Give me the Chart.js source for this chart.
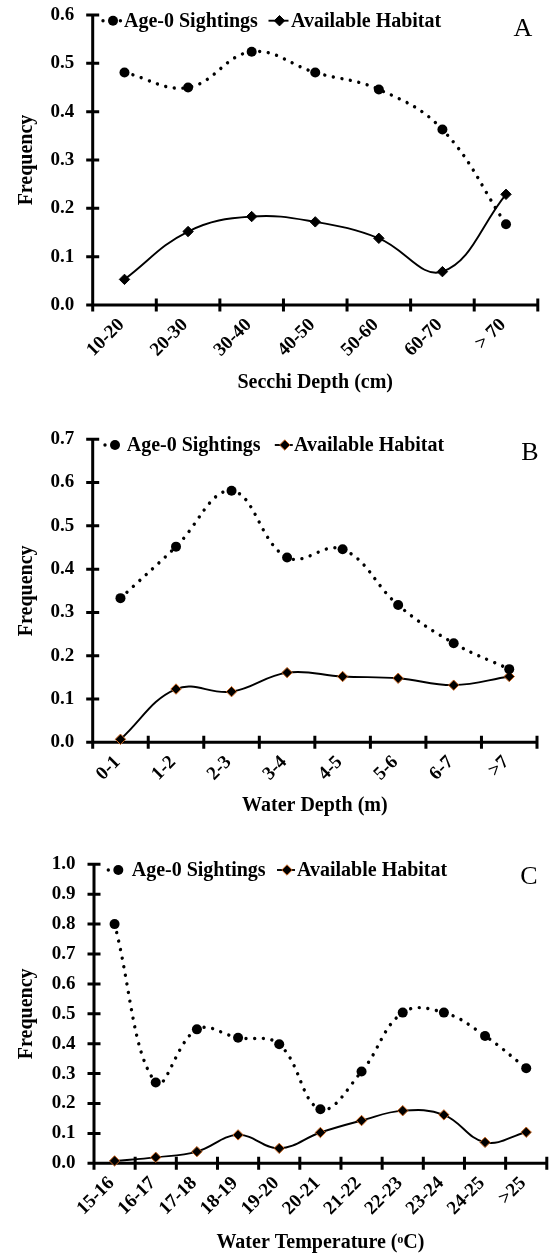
<!DOCTYPE html>
<html>
<head>
<meta charset="utf-8">
<script src="https://cdn.jsdelivr.net/npm/chart.js@4/dist/chart.umd.min.js"></script>
<style>
html,body{margin:0;padding:0;background:#fff;}
body{width:553px;height:1258px;position:relative;overflow:hidden;}
.panel{position:absolute;left:0;width:553px;}
canvas{display:block;}
</style>
</head>
<body>
<div class="panel" style="top:0;height:410px"><canvas id="chartA" width="553" height="410"></canvas></div>
<div class="panel" style="top:410px;height:420px"><canvas id="chartB" width="553" height="420"></canvas></div>
<div class="panel" style="top:830px;height:428px"><canvas id="chartC" width="553" height="428"></canvas></div>
<script>
// ---------- DATA ----------
const seriesNames = ['Age-0 Sightings', 'Available Habitat'];

const secchiLabels = ['10-20', '20-30', '30-40', '40-50', '50-60', '60-70', '> 70'];
const secchiAge0 = [0.481, 0.450, 0.524, 0.481, 0.446, 0.363, 0.167];
const secchiHabitat = [0.053, 0.152, 0.183, 0.172, 0.138, 0.069, 0.229];

const depthLabels = ['0-1', '1-2', '2-3', '3-4', '4-5', '5-6', '6-7', '>7'];
const depthAge0 = [0.333, 0.452, 0.581, 0.427, 0.446, 0.317, 0.229, 0.169];
const depthHabitat = [0.007, 0.123, 0.117, 0.161, 0.152, 0.148, 0.132, 0.152];

const tempLabels = ['15-16', '16-17', '17-18', '18-19', '19-20', '20-21', '21-22', '22-23', '23-24', '24-25', '>25'];
const tempAge0 = [0.800, 0.270, 0.448, 0.420, 0.398, 0.181, 0.307, 0.504, 0.504, 0.426, 0.318];
const tempHabitat = [0.008, 0.020, 0.039, 0.095, 0.050, 0.103, 0.143, 0.176, 0.162, 0.070, 0.104];

const yMaxA = 0.6, yMaxB = 0.7, yMaxC = 1.0;
const yStep = 0.1;

// ---------- STYLE ----------
const SERIF = "'Liberation Serif', 'Times New Roman', 'DejaVu Serif', serif";

function drawMarker(ctx, d, x, y) {
  ctx.save();
  ctx.setLineDash([]);
  ctx.fillStyle = d.pointBackgroundColor;
  ctx.strokeStyle = d.pointBorderColor;
  ctx.lineWidth = d.pointBorderWidth;
  const r = d.pointRadius;
  ctx.beginPath();
  if (d.pointStyle === 'rectRot') {
    ctx.moveTo(x - r, y); ctx.lineTo(x, y - r); ctx.lineTo(x + r, y); ctx.lineTo(x, y + r); ctx.closePath();
  } else {
    ctx.arc(x, y, r, 0, Math.PI * 2);
  }
  ctx.fill();
  if (d.pointBorderWidth > 0) ctx.stroke();
  ctx.restore();
}

const axesPlugin = {
  id: 'excelAxes',
  beforeDatasetsDraw(chart, args, opts) {
    const { ctx, chartArea: a, scales } = chart;
    const x = scales.x, y = scales.y;
    const lw = opts.lineWidth, tk = opts.tick;
    ctx.save();
    ctx.strokeStyle = '#000';
    ctx.lineWidth = lw;
    ctx.lineCap = 'butt';
    ctx.beginPath();
    ctx.moveTo(a.left, a.top - lw / 2);
    ctx.lineTo(a.left, a.bottom + lw / 2);
    ctx.moveTo(a.left - lw / 2, a.bottom);
    ctx.lineTo(a.right, a.bottom);
    y.ticks.forEach((t, i) => {
      const py = y.getPixelForTick(i);
      ctx.moveTo(a.left - tk, py);
      ctx.lineTo(a.left + tk, py);
    });
    const n = x.ticks.length;
    for (let i = 0; i <= n; i++) {
      const px = a.left + (a.right - a.left) * i / n;
      ctx.moveTo(px, a.bottom - tk);
      ctx.lineTo(px, a.bottom + tk);
    }
    ctx.stroke();
    ctx.restore();
  }
};

const legendPlugin = {
  id: 'excelLegend',
  afterDraw(chart, args, opts) {
    const { ctx, chartArea: a } = chart;
    const ds = chart.data.datasets;
    ctx.save();
    ctx.fillStyle = '#000';
    ctx.textAlign = 'left';
    ctx.textBaseline = 'alphabetic';
    ctx.font = 'bold ' + opts.fontSize + 'px ' + SERIF;
    const my = a.top + opts.markerDy;
    opts.items.forEach((it, i) => {
      const d = ds[i];
      ctx.save();
      ctx.strokeStyle = d.borderColor;
      ctx.lineWidth = d.borderWidth;
      ctx.setLineDash(d.borderDash || []);
      ctx.lineCap = d.borderCapStyle || 'butt';
      ctx.beginPath();
      ctx.moveTo(it.marker - it.before, my);
      ctx.lineTo(it.marker + it.after, my);
      ctx.stroke();
      ctx.restore();
      drawMarker(ctx, d, it.marker, my);
      ctx.fillText(d.label, it.text, a.top + opts.baselineDy);
    });
    ctx.font = opts.letterSize + 'px ' + SERIF;
    ctx.textAlign = 'center';
    ctx.fillText(opts.letter, opts.letterX, a.top + opts.letterDy);
    ctx.restore();
  }
};

function makeChart(id, labels, age0, habitat, yMax, xTitle, lay) {
  return new Chart(document.getElementById(id), {
    type: 'line',
    data: {
      labels: labels,
      datasets: [
        {
          label: seriesNames[0], data: age0,
          borderColor: '#000', borderWidth: 3.4, borderDash: [0.01, 8.7], borderCapStyle: 'round',
          tension: 0.4, fill: false, clip: false,
          pointStyle: 'circle', pointRadius: 5, pointBackgroundColor: '#000',
          pointBorderColor: '#000', pointBorderWidth: 0
        },
        {
          label: seriesNames[1], data: habitat,
          borderColor: '#000', borderWidth: 1.9,
          tension: 0.4, fill: false, clip: false,
          pointStyle: 'rectRot', pointRadius: 5.2, pointBackgroundColor: '#000',
          pointBorderColor: lay.diamondBorder, pointBorderWidth: 1
        }
      ]
    },
    options: {
      responsive: false,
      animation: false,
      events: [],
      layout: { padding: { top: lay.top, right: 553 - lay.right, left: 0, bottom: 0 } },
      plugins: {
        legend: { display: false },
        tooltip: { enabled: false },
        excelAxes: { lineWidth: 3, tick: 6.5 },
        excelLegend: {
          fontSize: 20, markerDy: 5.7, baselineDy: 11.7,
          items: lay.legendItems,
          letter: lay.letter, letterX: lay.letterX, letterDy: lay.letterDy, letterSize: 26
        }
      },
      scales: {
        x: {
          type: 'category', offset: true,
          grid: { display: false, drawTicks: false },
          border: { display: false },
          ticks: {
            autoSkip: false, maxRotation: 45, minRotation: 45,
            padding: 9, labelOffset: -3, color: '#000',
            font: { family: SERIF, size: 19, weight: 'bold' }
          },
          title: {
            display: true, text: xTitle, color: '#000',
            font: { family: SERIF, size: 20, weight: 'bold' },
            padding: { top: 0, bottom: lay.titlePad }
          },
          afterFit: (s) => { s.height = lay.H - lay.bottom; }
        },
        y: {
          min: 0, max: yMax,
          grid: { display: false, drawTicks: false },
          border: { display: false },
          ticks: {
            stepSize: yStep, padding: 18.5, color: '#000',
            font: { family: SERIF, size: 19, weight: 'bold' },
            callback: (v) => Number(v).toFixed(1)
          },
          title: {
            display: true, text: 'Frequency', color: '#000',
            font: { family: SERIF, size: 20, weight: 'bold' },
            padding: { top: 15, bottom: 0 }
          },
          afterFit: (s) => { s.width = lay.left; s.paddingTop = 10; s.paddingBottom = 10; }
        }
      }
    },
    plugins: [axesPlugin, legendPlugin]
  });
}

makeChart('chartA', secchiLabels, secchiAge0, secchiHabitat, yMaxA, 'Secchi Depth (cm)', {
  H: 410, top: 15, bottom: 305, left: 92.7, right: 537.8, titlePad: 15, diamondBorder: '#000',
  legendItems: [{ marker: 113, before: 10, after: 8, text: 124 }, { marker: 279.5, before: 11, after: 9, text: 291 }],
  letter: 'A', letterX: 523, letterDy: 20.7
});
makeChart('chartB', depthLabels, depthAge0, depthHabitat, yMaxB, 'Water Depth (m)', {
  H: 420, top: 29.3, bottom: 332.3, left: 92.7, right: 537, titlePad: 12, diamondBorder: '#c8641e',
  legendItems: [{ marker: 115, before: 10, after: 7, text: 126.7 }, { marker: 284.8, before: 10, after: 8, text: 294 }],
  letter: 'B', letterX: 530, letterDy: 20.7
});
makeChart('chartC', tempLabels, tempAge0, tempHabitat, yMaxC, 'Water Temperature (\u1D52C)', {
  H: 428, top: 34.3, bottom: 333.3, left: 94, right: 549, titlePad: 3, diamondBorder: '#c8641e',
  legendItems: [{ marker: 118.3, before: 10, after: 7, text: 131.7 }, { marker: 287, before: 10, after: 8, text: 297 }],
  letter: 'C', letterX: 529, letterDy: 19.5
});
</script>
</body>
</html>
